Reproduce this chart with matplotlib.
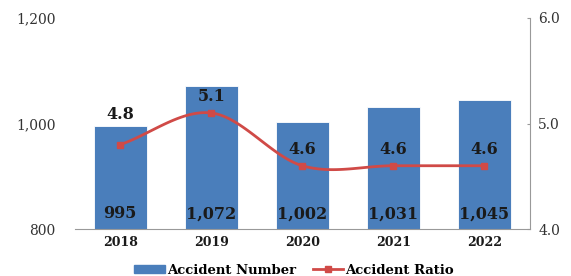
import matplotlib
matplotlib.use("Agg")
import matplotlib.pyplot as plt
import numpy as np
from matplotlib.lines import Line2D
from matplotlib.patches import Patch

years = ["2018", "2019", "2020", "2021", "2022"]
accident_number = [995, 1072, 1002, 1031, 1045]
accident_ratio = [4.8, 5.1, 4.6, 4.6, 4.6]
number_labels = ["995", "1,072", "1,002", "1,031", "1,045"]
ratio_labels = ["4.8", "5.1", "4.6", "4.6", "4.6"]

BLUE = "#4a7ebb"
RED = "#d04a47"
TXT = "#1a1a1a"
plt.rcParams['font.family'] = ['DejaVu Serif']

fig = plt.figure(figsize=(5.71, 2.76), dpi=100)
ax = fig.add_axes([0.131, 0.170, 0.797, 0.765])
x = np.arange(len(years))
ax.bar(x, accident_number, width=0.58, color=BLUE, edgecolor="white", linewidth=0.6, zorder=2)
ax.set_ylim(800, 1200)
ax.set_yticks([800, 1000, 1200])
ax.set_yticklabels(["800", "1,000", "1,200"], fontsize=10, color="#333333")
ax.set_xlim(-0.5, 4.5)
ax.set_xticks(x)
ax.set_xticklabels(years, fontsize=9, fontweight="bold", color=TXT)
for s in ["top", "left", "right"]:
    ax.spines[s].set_visible(False)
ax.spines["bottom"].set_color("#999999")
ax.tick_params(axis="y", length=0, pad=14)
ax.tick_params(axis="x", length=0, pad=5)
for xi, lab in zip(x, number_labels):
    ax.text(xi, 813, lab, ha="center", va="bottom", fontsize=11.5, fontweight="bold", color=TXT, zorder=5)

ax2 = ax.twinx()
ax2.set_ylim(4.0, 6.0)
ax2.set_yticks([4.0, 5.0, 6.0])
ax2.set_yticklabels(["4.0", "5.0", "6.0"], fontsize=10, color="#333333")
for s in ["top", "left", "bottom"]:
    ax2.spines[s].set_visible(False)
ax2.spines["right"].set_color("#999999")
ax2.tick_params(axis="y", length=2, direction="in", color="#999999", pad=6)

# smoothed line (Catmull-Rom style) through the data points
xs = x.astype(float)
ys = np.array(accident_ratio, dtype=float)
px = np.concatenate([[2*xs[0]-xs[1]], xs, [2*xs[-1]-xs[-2]]])
py = np.concatenate([[2*ys[0]-ys[1]], ys, [2*ys[-1]-ys[-2]]])
cx, cy = [], []
t = np.linspace(0, 1, 30)
for i in range(1, len(px)-2):
    p0, p1, p2, p3 = [np.array([px[j], py[j]]) for j in range(i-1, i+3)]
    m1 = (p2 - p0) / 6
    m2 = (p3 - p1) / 6
    for tt in t:
        b = ((1-tt)**3)*p1 + 3*((1-tt)**2)*tt*(p1+m1) + 3*(1-tt)*tt**2*(p2-m2) + tt**3*p2
        cx.append(b[0]); cy.append(b[1])
ax2.plot(cx, cy, color=RED, linewidth=2.0, zorder=3)
ax2.plot(xs, ys, linestyle="none", marker="s", markersize=5, color=RED, zorder=4)

# label placement: move above the bar when the label would straddle the bar's top edge
bar_top_ratio = [4.0 + (v - 800) / 400 * 2.0 for v in accident_number]
for xi, yi, lab, bt in zip(xs, ys, ratio_labels, bar_top_ratio):
    ly = yi + 0.155
    if abs(bt - ly) < 0.08:
        ly = bt + 0.115
    ax2.text(xi, ly, lab, ha="center", va="center", fontsize=11.5, fontweight="bold",
             color=TXT, zorder=5)

handles = [Patch(facecolor=BLUE, edgecolor=BLUE),
           Line2D([0], [0], color=RED, linewidth=2.0, marker="s", markersize=4)]
fig.legend(handles, ["Accident Number", "Accident Ratio"], loc="lower center",
           bbox_to_anchor=(0.515, -0.045), ncol=2, frameon=False,
           prop={"family": "DejaVu Serif", "weight": "bold", "size": 9.5},
           handlelength=2.3, handleheight=0.55, columnspacing=1.3, handletextpad=0.15)

fig.savefig("out.png", dpi=100)
